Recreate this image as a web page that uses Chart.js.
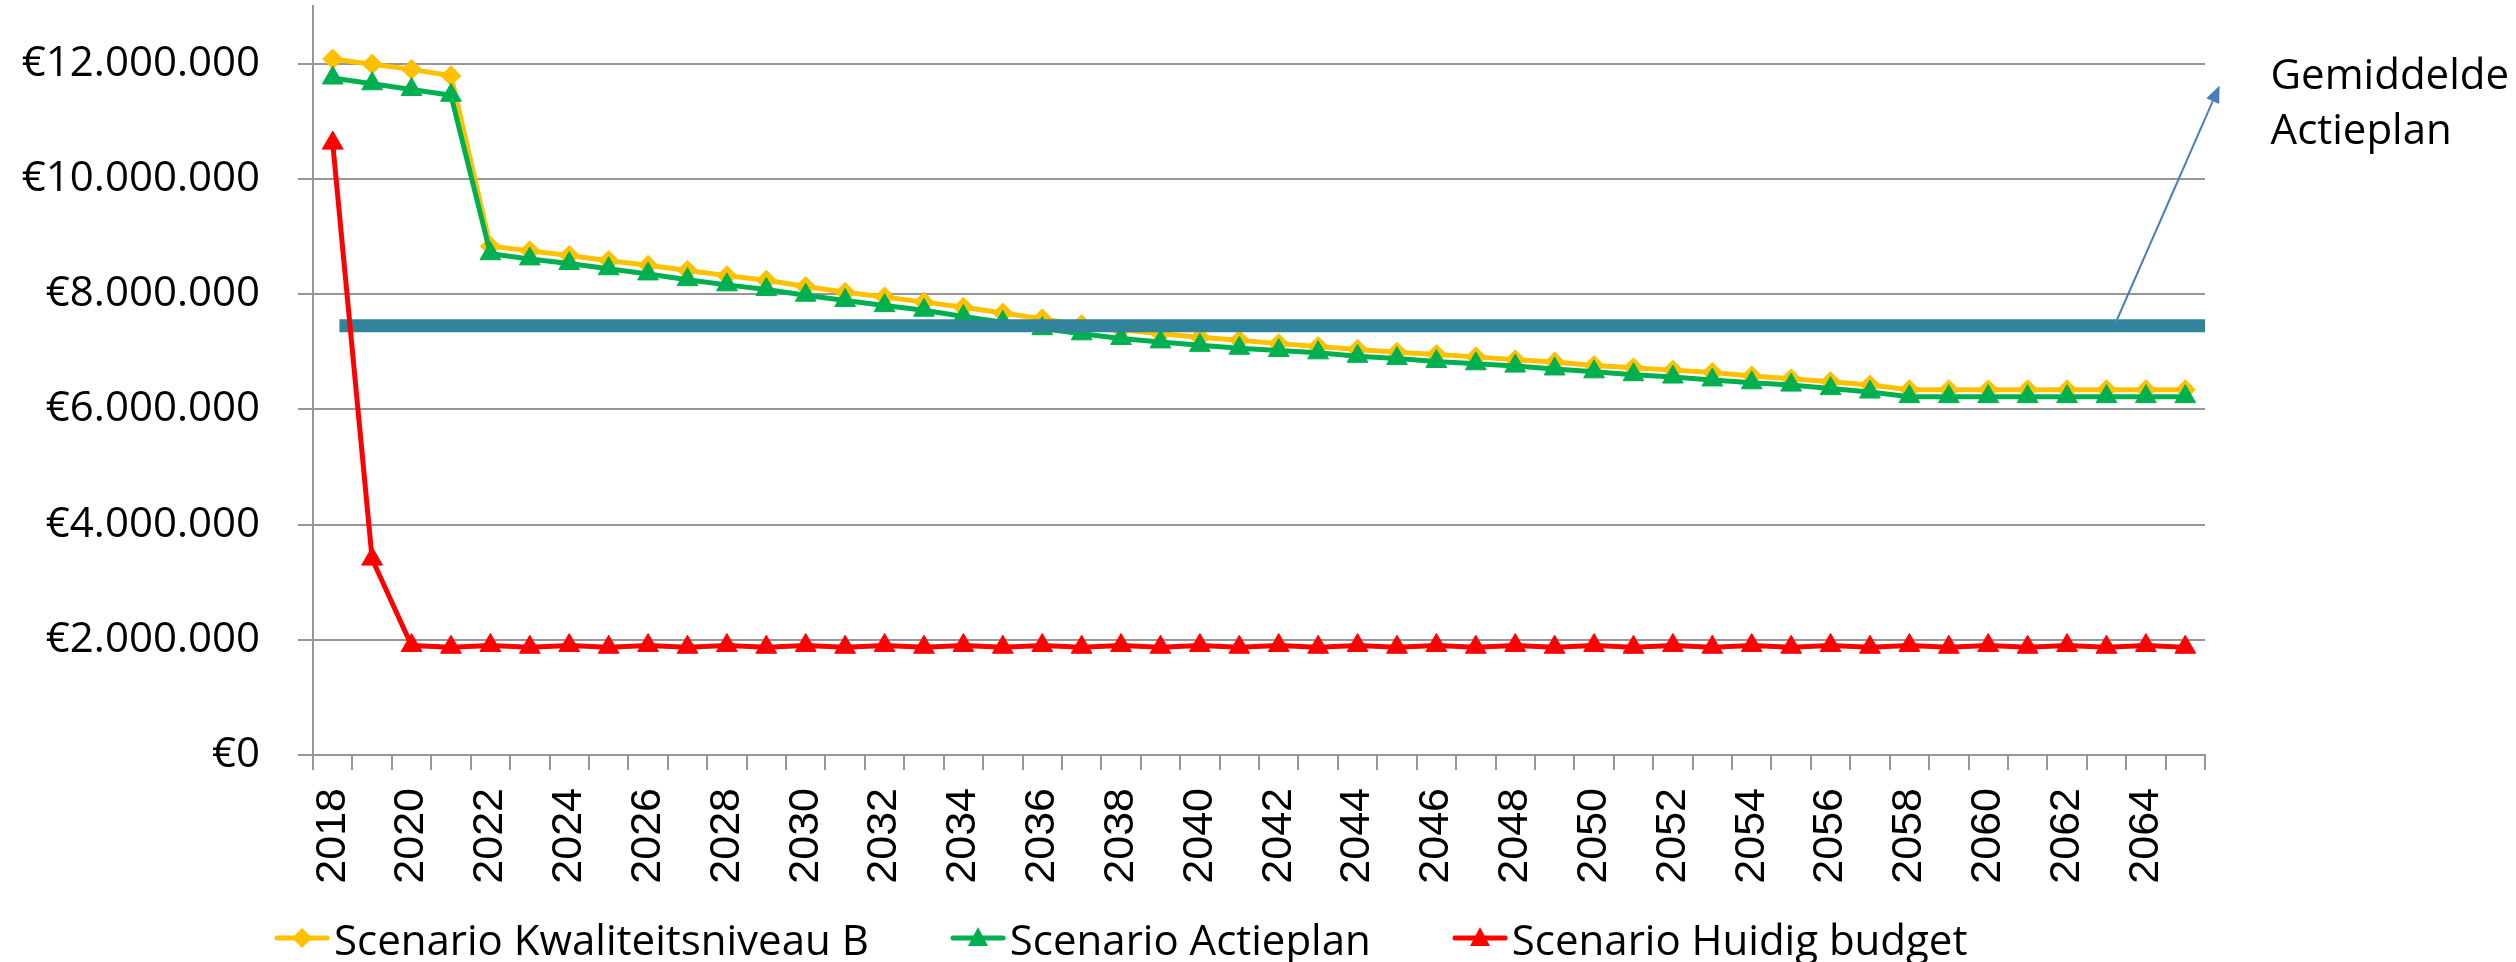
<!DOCTYPE html>
<html>
<head>
<meta charset="utf-8">
<script src="https://cdn.jsdelivr.net/npm/chart.js@4.4.1/dist/chart.umd.min.js"></script>
<style>
    html, body { margin: 0; padding: 0; background: #fff; }
    #wrap { position: relative; width: 2516px; height: 962px; }
    #legend {
        position: absolute; left: 273px; top: 910px; height: 56px;
        display: flex; align-items: center; gap: 80px;
        font-family: "Open Sans", sans-serif; font-size: 42px; color: #000;
    }
    #legend .item { display: flex; align-items: center; gap: 3px; white-space: nowrap; }
</style>
</head>
<body>
<div id="wrap">
    <canvas id="chart" width="2516" height="962"></canvas>
    <div id="legend"></div>
</div>
<script>
// Jaren 2018 - 2065
const years = [
    '2018', '2019', '2020', '2021', '2022', '2023', '2024', '2025', '2026', '2027',
    '2028', '2029', '2030', '2031', '2032', '2033', '2034', '2035', '2036', '2037',
    '2038', '2039', '2040', '2041', '2042', '2043', '2044', '2045', '2046', '2047',
    '2048', '2049', '2050', '2051', '2052', '2053', '2054', '2055', '2056', '2057',
    '2058', '2059', '2060', '2061', '2062', '2063', '2064', '2065'
];

const kwaliteitsniveauB = [
    12080000, 11990000, 11900000, 11790000, 8830000, 8750000, 8670000, 8580000, 8500000, 8410000,
    8320000, 8240000, 8130000, 8030000, 7950000, 7860000, 7770000, 7670000, 7570000, 7470000,
    7380000, 7310000, 7250000, 7200000, 7140000, 7090000, 7040000, 6990000, 6950000, 6910000,
    6860000, 6820000, 6760000, 6720000, 6680000, 6640000, 6580000, 6530000, 6480000, 6420000,
    6340000, 6340000, 6340000, 6340000, 6340000, 6340000, 6340000, 6340000
];

const actieplan = [
    11750000, 11650000, 11550000, 11450000, 8700000, 8610000, 8530000, 8440000, 8350000, 8250000,
    8160000, 8080000, 7980000, 7890000, 7800000, 7720000, 7610000, 7510000, 7400000, 7310000,
    7230000, 7170000, 7110000, 7060000, 7020000, 6980000, 6920000, 6880000, 6830000, 6790000,
    6750000, 6700000, 6650000, 6600000, 6560000, 6510000, 6460000, 6420000, 6360000, 6300000,
    6220000, 6220000, 6220000, 6220000, 6220000, 6220000, 6220000, 6220000
];

const huidigBudget = [
    10620000, 3400000, 1900000, 1870000, 1900000, 1870000, 1900000, 1870000, 1900000, 1870000,
    1900000, 1870000, 1900000, 1870000, 1900000, 1870000, 1900000, 1870000, 1900000, 1870000,
    1900000, 1870000, 1900000, 1870000, 1900000, 1870000, 1900000, 1870000, 1900000, 1870000,
    1900000, 1870000, 1900000, 1870000, 1900000, 1870000, 1900000, 1870000, 1900000, 1870000,
    1900000, 1870000, 1900000, 1870000, 1900000, 1870000, 1900000, 1870000
];

// Y-as: vaste stappen van 2 miljoen
const yTicks = [0, 2000000, 4000000, 6000000, 8000000, 10000000, 12000000];
const yMax = 13000000;

// Gemiddelde Actieplan (horizontale lijn) en de pijl naar het label
const gemiddeldeActieplan = 7450000;
const gemiddeldeVan = 0.17;   // categorie-index waar de lijn begint
const gemiddeldeTot = 47.5;   // rechterrand van het plotgebied
const pijlStart = [45.2, gemiddeldeActieplan];
const pijlPunt = [47.87, 11620000];
const gemiddeldeLabel = ['Gemiddelde', 'Actieplan'];

const euro = (v) => '€' + String(v).replace(/\B(?=(\d{3})+(?!\d))/g, '.');

const series = [
    { label: 'Scenario Kwaliteitsniveau B', data: kwaliteitsniveauB, color: '#FFC000', style: 'rectRot', radius: 10, order: 2 },
    { label: 'Scenario Actieplan', data: actieplan, color: '#00B050', style: 'triangle', radius: 12, order: 1 },
    { label: 'Scenario Huidig budget', data: huidigBudget, color: '#FF0000', style: 'triangle', radius: 12, order: 0 }
];

// Teal lijn onder de rode reeks, pijl + tekst erboven
const gemiddeldePlugin = {
    id: 'gemiddelde',
    beforeDatasetDraw(chart, args) {
        if (args.index !== 2) return;
        const { ctx, scales: { x, y } } = chart;
        const yPix = y.getPixelForValue(gemiddeldeActieplan);
        ctx.save();
        ctx.strokeStyle = '#31849B';
        ctx.lineWidth = 13;
        ctx.beginPath();
        ctx.moveTo(x.getPixelForValue(gemiddeldeVan), yPix);
        ctx.lineTo(x.getPixelForValue(gemiddeldeTot), yPix);
        ctx.stroke();
        ctx.restore();
    },
    afterDraw(chart) {
        const { ctx, scales: { x, y } } = chart;
        const x0 = x.getPixelForValue(pijlStart[0]);
        const y0 = y.getPixelForValue(pijlStart[1]);
        const x1 = x.getPixelForValue(pijlPunt[0]);
        const y1 = y.getPixelForValue(pijlPunt[1]);
        const angle = Math.atan2(y1 - y0, x1 - x0);
        const headLen = 17;
        const headW = 7;
        const bx = x1 - Math.cos(angle) * headLen;
        const by = y1 - Math.sin(angle) * headLen;

        ctx.save();
        ctx.strokeStyle = '#4A7EBB';
        ctx.fillStyle = '#4A7EBB';
        ctx.lineWidth = 2;
        ctx.beginPath();
        ctx.moveTo(x0, y0);
        ctx.lineTo(bx, by);
        ctx.stroke();

        ctx.beginPath();
        ctx.moveTo(x1, y1);
        ctx.lineTo(bx + Math.sin(angle) * headW, by - Math.cos(angle) * headW);
        ctx.lineTo(bx - Math.sin(angle) * headW, by + Math.cos(angle) * headW);
        ctx.closePath();
        ctx.fill();

        ctx.fillStyle = '#000';
        ctx.font = '42px "Open Sans"';
        ctx.textAlign = 'left';
        ctx.textBaseline = 'middle';
        ctx.fillText(gemiddeldeLabel[0], x1 + 51, y1 - 8);
        ctx.fillText(gemiddeldeLabel[1], x1 + 51, y1 + 47);
        ctx.restore();
    }
};

const ctx = document.getElementById('chart').getContext('2d');

const chart = new Chart(ctx, {
    type: 'line',
    data: {
        labels: years,
        datasets: series.map(s => ({
            label: s.label,
            data: s.data,
            borderColor: s.color,
            backgroundColor: s.color,
            borderWidth: 5,
            pointStyle: s.style,
            pointRadius: s.radius,
            pointBorderWidth: 1,
            pointBorderColor: s.color,
            pointBackgroundColor: s.color,
            tension: 0,
            order: s.order
        }))
    },
    options: {
        responsive: false,
        animation: false,
        devicePixelRatio: 1,
        layout: {
            autoPadding: false,
            padding: { left: 0, right: 311, top: 6, bottom: 0 }
        },
        plugins: {
            legend: { display: false },
            tooltip: { enabled: false }
        },
        scales: {
            x: {
                offset: true,
                border: { display: true, color: '#969696', width: 2 },
                grid: {
                    offset: true,
                    drawOnChartArea: false,
                    drawTicks: true,
                    tickLength: 15,
                    color: '#969696',
                    lineWidth: 2
                },
                ticks: {
                    autoSkip: false,
                    minRotation: 90,
                    maxRotation: 90,
                    padding: 18,
                    color: '#000',
                    font: { family: 'Liberation Sans', size: 43 },
                    callback: (val, i) => (i % 2 === 0 ? years[i] : '')
                },
                afterFit: (scale) => {
                    scale.height = 207;
                    scale.paddingLeft = 0;
                    scale.paddingRight = 0;
                }
            },
            y: {
                min: 0,
                max: yMax,
                border: { display: true, color: '#969696', width: 2 },
                grid: {
                    color: '#969696',
                    lineWidth: 2,
                    tickLength: 15
                },
                ticks: {
                    autoSkip: false,
                    padding: 38,
                    color: '#000',
                    font: { family: 'Open Sans', size: 42 },
                    callback: (v) => euro(v)
                },
                afterBuildTicks: (scale) => {
                    scale.ticks = yTicks.map(v => ({ value: v }));
                },
                afterFit: (scale) => {
                    scale.width = 313;
                    scale.paddingTop = 0;
                    scale.paddingBottom = 0;
                }
            }
        }
    },
    plugins: [gemiddeldePlugin]
});

// HTML-legenda met lijn + marker zoals in Excel
const legend = document.getElementById('legend');
series.forEach(s => {
    const item = document.createElement('div');
    item.className = 'item';
    const c = document.createElement('canvas');
    c.width = 58;
    c.height = 26;
    const g = c.getContext('2d');
    g.strokeStyle = s.color;
    g.fillStyle = s.color;
    g.lineWidth = 5;
    g.lineCap = 'round';
    g.beginPath();
    g.moveTo(4, 13);
    g.lineTo(54, 13);
    g.stroke();
    g.beginPath();
    if (s.style === 'rectRot') {
        g.moveTo(29, 3); g.lineTo(39, 13); g.lineTo(29, 23); g.lineTo(19, 13);
    } else {
        g.moveTo(29, 2); g.lineTo(39, 21); g.lineTo(19, 21);
    }
    g.closePath();
    g.fill();
    const t = document.createElement('span');
    t.textContent = s.label;
    item.appendChild(c);
    item.appendChild(t);
    legend.appendChild(item);
});
</script>
</body>
</html>
